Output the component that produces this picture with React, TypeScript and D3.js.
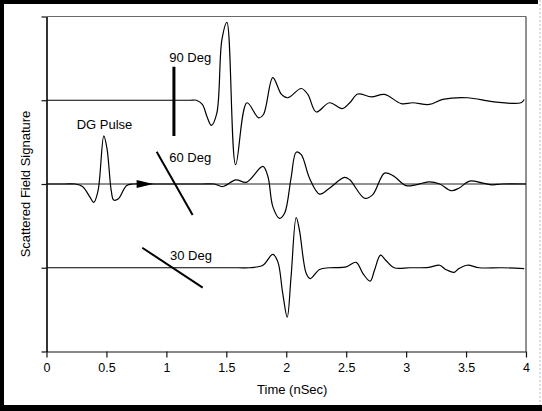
import { useRef, useEffect } from "react";
import * as d3 from "d3";

// time axis ticks (nSec)
const timeTicks = [0, 0.5, 1, 1.5, 2, 2.5, 3, 3.5, 4];
const levelTicks = [0, 1, 2, 3, 4];

// [time, amplitude], relative to each trace's baseline
const trace90: [number, number][] = [
  [0, 0], [0.5, 0], [1.0, 0], [1.2, 0], [1.25, 0], [1.3, -0.05], [1.34, -0.2],
  [1.375, -0.3], [1.42, -0.16], [1.463, 0.72], [1.505, 0.93], [1.578, -0.77],
  [1.672, -0.03], [1.77, -0.21], [1.81, -0.17], [1.888, 0.27], [1.96, 0.07],
  [2.013, 0.03], [2.125, 0.14], [2.18, 0.07], [2.25, -0.14], [2.36, -0.03],
  [2.467, -0.1], [2.53, -0.03], [2.597, 0.075], [2.71, 0.04], [2.82, 0.07],
  [2.96, -0.04], [3.055, -0.03], [3.194, -0.05], [3.305, 0.01], [3.51, 0.03],
  [3.736, -0.02], [3.958, -0.03], [3.985, 0.01],
];

const trace60: [number, number][] = [
  [0, 0], [0.15, 0], [0.24, 0], [0.3, -0.03], [0.36, -0.15], [0.394, -0.22],
  [0.43, -0.08], [0.478, 0.575], [0.505, 0.42], [0.54, -0.08], [0.56, -0.19],
  [0.597, -0.18], [0.667, -0.02], [0.72, 0], [0.9, 0], [1.1, 0], [1.3, 0], [1.4, 0],
  [1.47, -0.03], [1.58, 0.05], [1.667, 0.02], [1.805, 0.21], [1.847, 0.09],
  [1.888, -0.27], [1.944, -0.41], [1.986, -0.35], [2.04, 0.07], [2.083, 0.38],
  [2.125, 0.35], [2.194, 0.07], [2.278, -0.12], [2.36, -0.05], [2.486, 0.08],
  [2.53, 0.05], [2.653, -0.17], [2.72, -0.13], [2.82, 0.13], [2.89, 0.1],
  [3.0, -0.02], [3.08, -0.01], [3.19, 0.025], [3.28, 0], [3.375, -0.08],
  [3.44, -0.05], [3.53, 0.035], [3.64, 0.01], [3.72, -0.01], [3.8, 0], [4, 0],
];

const trace30: [number, number][] = [
  [0, 0], [0.5, 0], [1.0, 0], [1.4, 0], [1.6, 0], [1.694, 0], [1.805, 0.03],
  [1.888, 0.16], [1.93, 0.07], [1.97, -0.3], [2.008, -0.59], [2.04, -0.11],
  [2.083, 0.6], [2.11, 0.45], [2.167, -0.07], [2.2, -0.13], [2.278, -0.02],
  [2.36, 0], [2.5, 0.01], [2.583, 0.065], [2.64, -0.07], [2.7, -0.16],
  [2.736, -0.03], [2.786, 0.15], [2.83, 0.09], [2.9, 0], [3.03, 0], [3.19, 0.005],
  [3.28, 0.03], [3.33, -0.02], [3.4, -0.055], [3.44, -0.01], [3.51, 0.03],
  [3.61, 0], [3.8, 0], [3.985, -0.01],
];

const traces = [
  { name: "90 Deg", base: 3, points: trace90 },
  { name: "60 Deg", base: 2, points: trace60 },
  { name: "30 Deg", base: 1, points: trace30 },
];

// angle markers and their labels, in (time, level) units
const markers = [
  { label: "90 Deg", from: [1.063, 3.4], to: [1.063, 2.573], text: [1.024, 3.453], width: 3 },
  { label: "60 Deg", from: [0.919, 2.386], to: [1.219, 1.63], text: [1.024, 2.266], width: 2 },
  { label: "30 Deg", from: [0.799, 1.239], to: [1.303, 0.762], text: [1.03, 1.093], width: 2 },
];

const FONT = "'Liberation Sans', Arial, Helvetica, sans-serif";

const App = () => {
  const svgRef = useRef<SVGSVGElement>(null);

  useEffect(() => {
    const svg = d3.select(svgRef.current);
    svg.selectAll("*").remove();

    const width = 542;
    const height = 411;

    const x = d3.scaleLinear().domain([0, 4]).range([46.5, 526]);
    const y = d3.scaleLinear().domain([0, 4]).range([351.5, 16.5]);

    svg.append("rect").attr("width", width).attr("height", height).attr("fill", "#fff");

    // outer frame (thick on top, left and bottom)
    svg.append("rect").attr("x", 0).attr("y", 0).attr("width", 538).attr("height", 4).attr("fill", "#000");
    svg.append("rect").attr("x", 0).attr("y", 0).attr("width", 4).attr("height", height).attr("fill", "#000");
    svg.append("rect").attr("x", 0).attr("y", 405).attr("width", width).attr("height", 6).attr("fill", "#000");
    svg.append("line")
      .attr("x1", 540).attr("x2", 540).attr("y1", 0).attr("y2", 405)
      .attr("stroke", "#bbb").attr("stroke-dasharray", "2,2");

    // plot box top and right
    svg.append("line")
      .attr("x1", x(0)).attr("x2", x(4)).attr("y1", y(4)).attr("y2", y(4))
      .attr("stroke", "#444").attr("stroke-width", 0.8);
    svg.append("line")
      .attr("x1", x(4)).attr("x2", x(4)).attr("y1", y(4)).attr("y2", y(0))
      .attr("stroke", "#222").attr("stroke-width", 1);

    // x axis
    const xAxis = svg.append("g")
      .attr("transform", `translate(0,${y(0)})`)
      .call(d3.axisBottom(x).tickValues(timeTicks).tickSize(6).tickSizeOuter(0).tickFormat((d) => `${d}`));
    xAxis.select(".domain").attr("stroke", "#111").attr("stroke-width", 1);
    xAxis.selectAll(".tick line").attr("stroke", "#111").attr("stroke-width", 1.2);
    xAxis.selectAll(".tick text")
      .attr("y", 12)
      .attr("fill", "#000")
      .style("font-family", FONT)
      .style("font-size", "12.5px");

    // y axis, ticks only
    const yAxis = svg.append("g")
      .attr("transform", `translate(${x(0)},0)`)
      .call(d3.axisLeft(y).tickValues(levelTicks).tickSize(5).tickSizeOuter(0).tickFormat(() => ""));
    yAxis.select(".domain").attr("stroke", "#000").attr("stroke-width", 1.6);
    yAxis.selectAll(".tick line").attr("stroke", "#111").attr("stroke-width", 1.2);

    svg.append("text")
      .attr("x", x(2.05))
      .attr("y", 394)
      .attr("text-anchor", "middle")
      .style("font-family", FONT)
      .style("font-size", "13px")
      .text("Time (nSec)");

    svg.append("text")
      .attr("transform", `translate(30,${y(2)}) rotate(-90)`)
      .attr("text-anchor", "middle")
      .style("font-family", FONT)
      .style("font-size", "13px")
      .text("Scattered Field Signature");

    // reference line under the 60 degree trace
    svg.append("line")
      .attr("x1", x(0)).attr("x2", x(4)).attr("y1", y(2)).attr("y2", y(2))
      .attr("stroke", "#222").attr("stroke-width", 1);

    const line = d3.line<[number, number]>()
      .x((d) => x(d[0]))
      .y((d) => d[1])
      .curve(d3.curveCatmullRom.alpha(0.5));

    traces.forEach((tr) => {
      svg.append("path")
        .datum(tr.points.map((p) => [p[0], y(tr.base + p[1])] as [number, number]))
        .attr("d", line)
        .attr("fill", "none")
        .attr("stroke", "#000")
        .attr("stroke-width", 1.2)
        .attr("stroke-linejoin", "round");
    });

    // pulse arrow on the 60 degree line
    const tip = x(0.89);
    const back = x(0.752);
    svg.append("path")
      .attr("d", `M${back},${y(2) - 4}L${tip},${y(2)}L${back},${y(2) + 4}Z`)
      .attr("fill", "#000");

    svg.append("text")
      .attr("x", x(0.252))
      .attr("y", y(2.657))
      .style("font-family", FONT)
      .style("font-size", "13px")
      .text("DG Pulse");

    markers.forEach((m) => {
      svg.append("line")
        .attr("x1", x(m.from[0])).attr("y1", y(m.from[1]))
        .attr("x2", x(m.to[0])).attr("y2", y(m.to[1]))
        .attr("stroke", "#000")
        .attr("stroke-width", m.width);
      svg.append("text")
        .attr("x", x(m.text[0]))
        .attr("y", y(m.text[1]))
        .style("font-family", FONT)
        .style("font-size", "13px")
        .text(m.label);
    });
  }, []);

  return (
    <svg
      ref={svgRef}
      width={542}
      height={411}
      style={{ position: "absolute", left: 0, top: 0 }}
    ></svg>
  );
};

export default App;
